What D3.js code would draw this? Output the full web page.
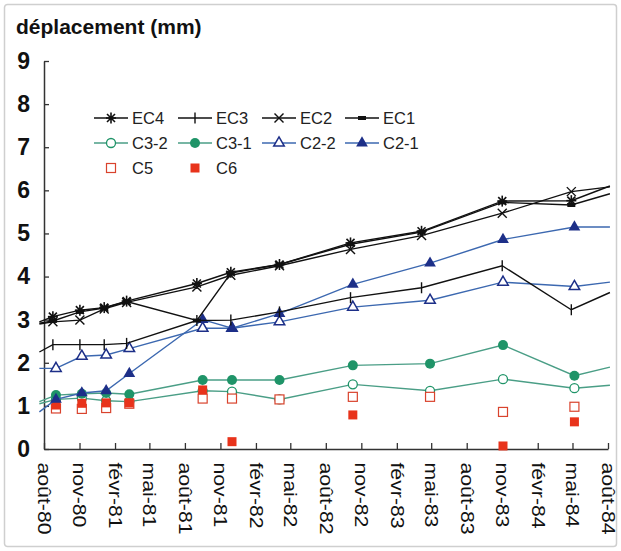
<!DOCTYPE html>
<html><head><meta charset="utf-8">
<script src="https://cdn.jsdelivr.net/npm/d3@7"></script>
<style>
html,body{margin:0;padding:0;background:#fff;}
svg{display:block;font-family:Arial,"Liberation Sans",sans-serif;}
</style></head>
<body>
<svg id="chart" width="621" height="551"></svg>
<script>
// ---- data ----
const tickDates = ["1980-08-01","1980-11-01","1981-02-01","1981-05-01","1981-08-01","1981-11-01","1982-02-01","1982-05-01","1982-08-01","1982-11-01","1983-02-01","1983-05-01","1983-08-01","1983-11-01","1984-02-01","1984-05-01","1984-08-01"];
const tickLabels = ["août-80","nov-80","févr-81","mai-81","août-81","nov-81","févr-82","mai-82","août-82","nov-82","févr-83","mai-83","août-83","nov-83","févr-84","mai-84","août-84"];
const yTicks = [0,1,2,3,4,5,6,7,8,9];

const ecDates = ["1980-07-20","1980-08-24","1980-11-02","1981-01-04","1981-03-03","1981-09-01","1981-11-28","1982-04-03","1982-10-04","1983-04-06","1983-11-01","1984-04-28","1984-08-06"];
const cDates  = ["1980-07-20","1980-09-01","1980-11-07","1981-01-09","1981-03-10","1981-09-16","1981-12-01","1982-04-03","1982-10-10","1983-04-28","1983-11-03","1984-05-06","1984-08-06"];

const EC4  = [2.95, 3.07, 3.22, 3.28, 3.43, 3.84, 4.10, 4.28, 4.78, 5.05, 5.75, 5.76, 6.10];
const EC3  = [2.25, 2.42, 2.42, 2.42, 2.45, 2.98, 2.99, 3.18, 3.51, 3.74, 4.25, 3.23, 3.63];
const EC2  = [2.90, 2.95, 2.99, 3.25, 3.40, 3.76, 4.03, 4.25, 4.63, 4.95, 5.47, 5.97, 6.08];
const EC1  = [2.92, 2.97, 3.18, 3.27, 3.42, 2.98, 4.08, 4.28, 4.75, 5.03, 5.72, 5.66, 5.92];
const C3_2 = [1.05, 1.15, 1.18, 1.12, 1.10, 1.35, 1.33, 1.15, 1.50, 1.35, 1.62, 1.41, 1.48];
const C3_1 = [1.10, 1.25, 1.28, 1.30, 1.27, 1.60, 1.60, 1.60, 1.94, 1.98, 2.41, 1.70, 1.90];
const C2_2 = [1.87, 1.87, 2.15, 2.18, 2.33, 2.80, 2.80, 2.95, 3.29, 3.45, 3.87, 3.77, 3.87];
const C2_1 = [0.86, 1.15, 1.30, 1.35, 1.75, 3.00, 2.80, 3.14, 3.82, 4.31, 4.86, 5.15, 5.15];
const C5   = [null, 0.94, 0.93, 0.95, 1.05, 1.17, 1.17, 1.15, 1.21, 1.21, 0.86, 0.98, null];
const C6   = [null, 1.02, 1.06, 1.07, 1.07, 1.37, 0.17, null, 0.79, null, 0.07, 0.63, null];

const series = [
  {name:"EC4",  dates:ecDates, values:EC4,  marker:"star",  line:"#111", color:"#111"},
  {name:"EC3",  dates:ecDates, values:EC3,  marker:"plus",  line:"#111", color:"#111"},
  {name:"EC2",  dates:ecDates, values:EC2,  marker:"x",     line:"#111", color:"#111"},
  {name:"EC1",  dates:ecDates, values:EC1,  marker:"dash",  line:"#111", color:"#111"},
  {name:"C3-2", dates:cDates,  values:C3_2, marker:"circleOpen", line:"#4a9e86", color:"#1f9468"},
  {name:"C3-1", dates:cDates,  values:C3_1, marker:"circle",     line:"#4a9e86", color:"#1f9468"},
  {name:"C2-2", dates:cDates,  values:C2_2, marker:"triOpen",    line:"#3c68b0", color:"#1d2f88"},
  {name:"C2-1", dates:cDates,  values:C2_1, marker:"tri",        line:"#3c68b0", color:"#1d2f88"},
  {name:"C5",   dates:cDates,  values:C5,   marker:"sqOpen", line:null, color:"#d9432d"},
  {name:"C6",   dates:cDates,  values:C6,   marker:"sq",     line:null, color:"#e8331b"}
];

// ---- drawing ----
const parse = d3.timeParse("%Y-%m-%d");
const svg = d3.select("#chart");
const W = 621, H = 551;

svg.append("rect").attr("x",0).attr("y",0).attr("width",W).attr("height",H).attr("fill","#fff");
svg.append("rect").attr("x",4.5).attr("y",4.5).attr("width",W-9).attr("height",H-9)
  .attr("rx",3).attr("fill","none").attr("stroke","#cfcfcf").attr("stroke-width",1.5);

const x = d3.scaleTime().domain([parse("1980-08-01"), parse("1984-08-01")]).range([44, 608]);
const y = d3.scaleLinear().domain([0, 9]).range([449, 61]);

// title
svg.append("text").attr("x",16).attr("y",34).attr("font-size",21).attr("font-weight","bold")
  .attr("fill","#111").text("déplacement (mm)");

// y axis
const yAxis = svg.append("g").attr("transform","translate(44,0)")
  .call(d3.axisLeft(y).tickValues(yTicks).tickFormat(d3.format("d")).tickSizeInner(-5).tickSizeOuter(0).tickPadding(14));
yAxis.select(".domain").attr("stroke","#333").attr("stroke-width",1.5);
yAxis.selectAll(".tick line").attr("stroke","#333").attr("stroke-width",1.3);
yAxis.selectAll(".tick text").attr("font-size",23).attr("font-weight","bold").attr("fill","#111")
  .attr("font-family","Arial,'Liberation Sans',sans-serif");

// x axis
const xAxis = svg.append("g").attr("transform","translate(0,449)")
  .call(d3.axisBottom(x).tickValues(tickDates.map(parse)).tickFormat((d,i)=>tickLabels[i]).tickSizeInner(-6).tickSizeOuter(0));
xAxis.select(".domain").attr("stroke","#333").attr("stroke-width",1.5);
xAxis.selectAll(".tick line").attr("stroke","#333").attr("stroke-width",1.3);
xAxis.selectAll(".tick text").attr("font-size",19).attr("fill","#111")
  .attr("font-family","Arial,'Liberation Sans',sans-serif")
  .attr("text-anchor","start").attr("transform","rotate(90) scale(1.12,1)")
  .attr("x",12).attr("y",0).attr("dy","0.35em");

// markers
function drawMarker(g, type, color, cx, cy) {
  const m = g.append("g").attr("transform",`translate(${cx},${cy})`);
  const ln = (x1,y1,x2,y2,w)=>m.append("line").attr("x1",x1).attr("y1",y1).attr("x2",x2).attr("y2",y2)
      .attr("stroke",color).attr("stroke-width",w||1.4);
  switch(type){
    case "star":
      ln(-5,0,5,0,1.6); ln(0,-5.5,0,5.5,1.6); ln(-4,-4,4,4,1.6); ln(-4,4,4,-4,1.6);
      m.append("circle").attr("r",2).attr("fill",color); break;
    case "plus": ln(0,-5.5,0,5.5,1.4); break;
    case "x": ln(-4.5,-4.5,4.5,4.5,1.4); ln(-4.5,4.5,4.5,-4.5,1.4); break;
    case "dash": m.append("rect").attr("x",-4).attr("y",-2).attr("width",8).attr("height",4).attr("fill",color); break;
    case "circleOpen": m.append("circle").attr("r",4.5).attr("fill","#fff").attr("stroke",color).attr("stroke-width",1.3); break;
    case "circle": m.append("circle").attr("r",5).attr("fill",color); break;
    case "triOpen": m.append("path").attr("d",d3.symbol(d3.symbolTriangle,48)()).attr("fill","#fff").attr("stroke",color).attr("stroke-width",1.5); break;
    case "tri": m.append("path").attr("d",d3.symbol(d3.symbolTriangle,60)()).attr("fill",color); break;
    case "sqOpen": m.append("rect").attr("x",-4.5).attr("y",-4.5).attr("width",9).attr("height",9).attr("fill","#fff").attr("stroke",color).attr("stroke-width",1.2); break;
    case "sq": m.append("rect").attr("x",-4.5).attr("y",-4.5).attr("width",9).attr("height",9).attr("fill",color); break;
  }
}

const plot = svg.append("g");
const lineGen = d3.line().defined(d=>d.v!=null).x(d=>x(d.d)).y(d=>y(d.v));
const order = ["C3-2","C3-1","C5","C6","C2-2","C2-1","EC3","EC2","EC1","EC4"];
order.forEach(nm=>{
  const s = series.find(t=>t.name===nm);
  const pts = s.values.map((v,i)=>({d:parse(s.dates[i]), v:v, i:i}));
  if (s.line) {
    plot.append("path").datum(pts).attr("d",lineGen).attr("fill","none")
      .attr("stroke",s.line).attr("stroke-width",1.4);
  }
  pts.forEach(p=>{
    if (p.v==null || p.i===0 || p.i===pts.length-1) return;
    drawMarker(plot, s.marker, s.color, x(p.d), y(p.v));
  });
});

// legend
const legCols = [111, 195, 279, 362];
const legRows = [118, 143, 168];
series.forEach((s,i)=>{
  const cx = legCols[i%4], cy = legRows[Math.floor(i/4)];
  const g = svg.append("g");
  if (s.line) g.append("line").attr("x1",cx-17).attr("x2",cx+17).attr("y1",cy).attr("y2",cy)
      .attr("stroke",s.line).attr("stroke-width",1.4);
  drawMarker(g, s.marker, s.color, cx, cy);
  g.append("text").attr("x",cx+21).attr("y",cy).attr("dy","0.36em").attr("font-size",16.5)
    .attr("fill","#222").text(s.name);
});
</script>
</body></html>
